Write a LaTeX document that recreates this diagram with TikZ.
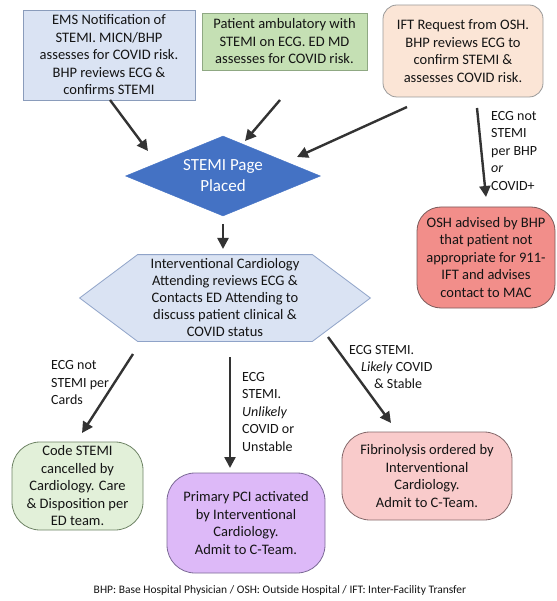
\documentclass[tikz,border=0pt]{standalone}
\usepackage{fontspec}
\setmainfont{Carlito}
\usetikzlibrary{shapes.geometric,arrows.meta,calc,backgrounds}
\definecolor{emsfill}{HTML}{DAE3F3}
\definecolor{emsdraw}{HTML}{8A9CBB}
\definecolor{ambfill}{HTML}{C5E0B4}
\definecolor{ambdraw}{HTML}{8FA883}
\definecolor{iftfill}{HTML}{FBE5D6}
\definecolor{iftdraw}{HTML}{9A9A9A}
\definecolor{diablue}{HTML}{4472C4}
\definecolor{hexfill}{HTML}{DAE3F3}
\definecolor{hexdraw}{HTML}{8FA3C8}
\definecolor{oshfill}{HTML}{F28E8A}
\definecolor{oshdraw}{HTML}{7A5A5A}
\definecolor{codefill}{HTML}{E2F0D9}
\definecolor{codedraw}{HTML}{6F8466}
\definecolor{pcifill}{HTML}{DDB9F8}
\definecolor{pcidraw}{HTML}{7C6A96}
\definecolor{fibfill}{HTML}{F9CBCB}
\definecolor{fibdraw}{HTML}{85696B}
\definecolor{txt}{HTML}{141414}
\definecolor{arrcol}{HTML}{333333}
\begin{document}
\begin{tikzpicture}[x=1pt,y=-1pt,
  box/.style={line width=0.8pt, align=center, inner sep=1pt, text=txt,
    font=\fontsize{14.5}{17.5}\selectfont},
  lbl/.style={align=left, inner sep=0pt, text=txt, font=\fontsize{14}{17.5}\selectfont},
  arr/.style={draw=arrcol, line width=2.4pt, -{Triangle[length=11pt,width=11pt]}}
]
\useasboundingbox (0,0) rectangle (556,601);

% top boxes
\node[box, draw=emsdraw, fill=emsfill, minimum width=172pt, minimum height=90pt] (ems) at (109,55)
  {EMS Notification of\\STEMI. MICN/BHP\\assesses for COVID risk.\\BHP reviews ECG \&\\confirms STEMI};
\node[box, draw=ambdraw, fill=ambfill, minimum width=165pt, minimum height=57pt] (amb) at (284.5,41.5)
  {Patient ambulatory with\\STEMI on ECG. ED MD\\assesses for COVID risk.};
\node[box, draw=iftdraw, fill=iftfill, rounded corners=14pt, minimum width=160pt, minimum height=92pt] (ift) at (463,51)
  {IFT Request from OSH.\\BHP reviews ECG to\\confirm STEMI \&\\assesses COVID risk.};

% diamond
\node[diamond, aspect=2.4, draw=diablue, fill=diablue, inner sep=0pt, text=white,
  minimum width=195pt, minimum height=80pt, align=center,
  font=\fontsize{17}{21}\selectfont] (dia) at (223,176) {STEMI Page\\Placed};

% hexagon
\node[box, minimum width=290pt, minimum height=86pt, font=\fontsize{14.5}{17}\selectfont] (hex) at (225,298)
  {Interventional Cardiology\\Attending reviews ECG \&\\Contacts ED Attending to\\discuss patient clinical \&\\COVID status};
\begin{scope}[on background layer]
\draw[line width=0.8pt, draw=hexdraw, fill=hexfill]
  (hex.west) -- ($(hex.north west)+(58,0)$) -- ($(hex.north east)+(-58,0)$)
  -- (hex.east) -- ($(hex.south east)+(-58,0)$) -- ($(hex.south west)+(58,0)$) -- cycle;
\end{scope}

% OSH advised
\node[box, draw=oshdraw, fill=oshfill, rounded corners=24pt, minimum width=138pt, minimum height=101pt] (osh) at (486,257.5)
  {OSH advised by BHP\\that patient not\\appropriate for 911-\\IFT and advises\\contact to MAC};

% bottom boxes
\node[box, draw=codedraw, fill=codefill, rounded corners=28pt, minimum width=131pt, minimum height=88pt] (code) at (77.5,486)
  {Code STEMI\\cancelled by\\Cardiology. Care\\\& Disposition per\\ED team.};
\node[box, draw=pcidraw, fill=pcifill, rounded corners=28pt, minimum width=158pt, minimum height=100pt] (pci) at (246,523)
  {Primary PCI activated\\by Interventional\\Cardiology.\\Admit to C-Team.};
\node[box, draw=fibdraw, fill=fibfill, rounded corners=28pt, minimum width=170pt, minimum height=88pt] (fib) at (427,476)
  {Fibrinolysis ordered by\\Interventional\\Cardiology.\\Admit to C-Team.};

% connector end points
\coordinate (emsout) at (110,100);
\coordinate (diaA) at (148,151);
\coordinate (ambout) at (280,100);
\coordinate (diaB) at (245,141);
\coordinate (iftout) at (407,107);
\coordinate (diaC) at (297,157);
\coordinate (iftdown) at (477,108);
\coordinate (oshin) at (486,197);
\coordinate (diaout) at (223,224);
\coordinate (hexin) at (223,249);
\coordinate (hexL) at (133,354);
\coordinate (codein) at (82,433);
\coordinate (hexM) at (230,357);
\coordinate (pciin) at (230,468);
\coordinate (hexR) at (328,337);
\coordinate (fibin) at (391,423);

\draw[arr] (emsout) -- (diaA);
\draw[arr] (ambout) -- (diaB);
\draw[arr] (iftout) -- (diaC);
\draw[arr] (iftdown) -- (oshin);
\draw[arr] (diaout) -- (hexin);
\draw[arr] (hexL) -- (codein);
\draw[arr] (hexM) -- (pciin);
\draw[arr] (hexR) -- (fibin);

% labels
\node[lbl, anchor=west] (l1) at (491,151) {ECG not\\STEMI\\per BHP\\\textit{or}\\COVID+};
\node[lbl, anchor=west] (l2) at (51,383) {ECG not\\STEMI per\\Cards};
\node[lbl, anchor=west] (l3) at (242,412) {ECG\\STEMI.\\\textit{Unlikely}\\COVID or\\Unstable};
\node[lbl, anchor=west, font=\fontsize{14}{16.8}\selectfont] (l4) at (349,367)
  {ECG STEMI.\\\hspace*{12pt}\textit{Likely} COVID\\\hspace*{25pt}\& Stable};

% footer
\node[inner sep=0pt, text=txt, font=\fontsize{11.5}{13}\selectfont] (foot) at (280,590)
  {BHP: Base Hospital Physician / OSH: Outside Hospital / IFT: Inter-Facility Transfer};
\end{tikzpicture}
\end{document}
